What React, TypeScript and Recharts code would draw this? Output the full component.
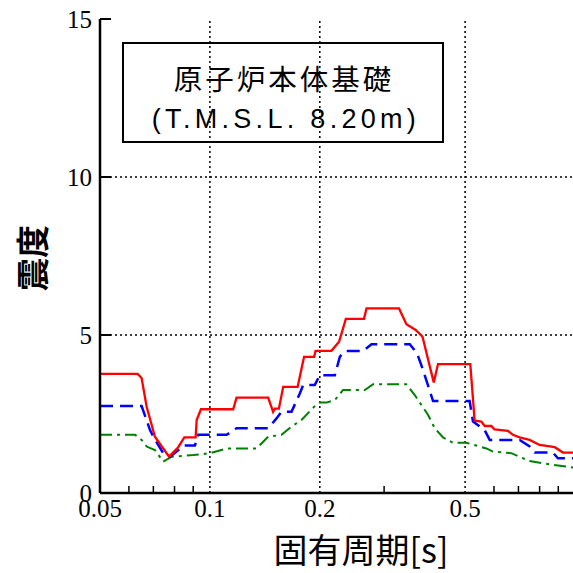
import React from 'react';
import { LineChart, Line, XAxis, YAxis, ReferenceLine } from 'recharts';

// periods [s] and seismic intensity
const redPeriods = [0.05, 0.0634, 0.065, 0.0671, 0.0707, 0.0773, 0.0819, 0.0851, 0.0914, 0.092, 0.0945, 0.1158, 0.1183, 0.1444, 0.149, 0.1506, 0.1545, 0.1588, 0.1739, 0.1811, 0.193, 0.1947, 0.2152, 0.2259, 0.2357, 0.2643, 0.2685, 0.3296, 0.3453, 0.3661, 0.3821, 0.4103, 0.4215, 0.5167, 0.531, 0.554, 0.566, 0.59, 0.602, 0.655, 0.676, 0.705, 0.751, 0.8, 0.88, 0.927, 1.0];
const redValues = [3.77, 3.77, 3.64, 2.73, 1.78, 1.15, 1.45, 1.76, 1.76, 2.31, 2.65, 2.65, 3.02, 3.02, 2.57, 2.67, 2.67, 3.36, 3.36, 4.31, 4.31, 4.5, 4.5, 4.79, 5.51, 5.51, 5.84, 5.84, 5.34, 5.16, 4.95, 3.5, 4.08, 4.08, 2.29, 2.26, 2.12, 2.12, 2.01, 1.97, 1.84, 1.76, 1.68, 1.52, 1.45, 1.28, 1.28];

const bluePeriods = [0.05, 0.065, 0.0671, 0.0685, 0.07, 0.0745, 0.0777, 0.0811, 0.0845, 0.091, 0.0929, 0.1111, 0.1183, 0.1444, 0.1522, 0.1571, 0.1673, 0.1763, 0.1801, 0.1938, 0.2, 0.2199, 0.2269, 0.2342, 0.2627, 0.2771, 0.3527, 0.3693, 0.3835, 0.4085, 0.5145, 0.5255, 0.5656, 0.584, 0.7054, 0.7515, 0.7755, 0.87, 0.898, 1.0];
const blueValues = [2.75, 2.75, 2.3, 2.0, 1.78, 1.26, 1.15, 1.31, 1.5, 1.5, 1.84, 1.84, 2.05, 2.05, 2.36, 2.57, 2.57, 3.15, 3.42, 3.42, 3.73, 3.73, 4.31, 4.49, 4.49, 4.71, 4.71, 4.42, 3.89, 2.91, 2.91, 2.26, 1.99, 1.68, 1.68, 1.47, 1.28, 1.28, 1.1, 1.1];

const greenPeriods = [0.05, 0.0624, 0.065, 0.0671, 0.0707, 0.0745, 0.0786, 0.09, 0.1, 0.1111, 0.1342, 0.1444, 0.1571, 0.1673, 0.1782, 0.193, 0.2, 0.2086, 0.2199, 0.2316, 0.2656, 0.2799, 0.3453, 0.364, 0.396, 0.4128, 0.435, 0.4634, 0.504, 0.572, 0.5964, 0.6694, 0.7515, 0.87, 1.0];
const greenValues = [1.84, 1.84, 1.68, 1.47, 1.36, 0.99, 1.15, 1.2, 1.26, 1.41, 1.41, 1.78, 1.84, 2.1, 2.31, 2.73, 2.86, 2.86, 2.94, 3.26, 3.26, 3.44, 3.44, 3.1, 2.47, 2.05, 1.76, 1.59, 1.59, 1.41, 1.31, 1.26, 1.01, 0.89, 0.8];

const xMajorTicks = [0.05, 0.1, 0.2, 0.5];
const xTickLabels = ['0.05', '0.1', '0.2', '0.5'];
const xMinorTicks = [0.06, 0.07, 0.08, 0.09, 0.3, 0.4, 0.6, 0.7, 0.8, 0.9];
const yTicks = [0, 5, 10, 15];

const redData = redPeriods.map((p, i) => ({ period: p, value: redValues[i] }));
const blueData = bluePeriods.map((p, i) => ({ period: p, value: blueValues[i] }));
const greenData = greenPeriods.map((p, i) => ({ period: p, value: greenValues[i] }));

const allXTicks = [...xMajorTicks, ...xMinorTicks].sort((a, b) => a - b);
const serif = "'Liberation Serif', 'Times New Roman', serif";
const sans = "'Liberation Sans', 'Noto Sans CJK JP', sans-serif";

const XTick = (props: any) => {
  const { x, y, payload, top } = props;
  const idx = xMajorTicks.indexOf(payload.value);
  const major = idx >= 0;
  return (
    <g>
      {!major && (
        <line x1={x} x2={x} y1={y} y2={top ? y + 7 : y - 7} stroke='#000' strokeWidth={1.5} />
      )}
      {!top && major && (
        <text x={x} y={y + 24} textAnchor='middle' fontFamily={serif} fontSize={25} fill='#000'>
          {xTickLabels[idx]}
        </text>
      )}
    </g>
  );
};

const YTick = (props: any) => {
  const { x, y, payload, right } = props;
  return (
    <g>
      <line x1={x} x2={right ? x - 11 : x + 11} y1={y} y2={y} stroke='#000' strokeWidth={2} />
      {!right && (
        <text x={x - 8} y={y + 9} textAnchor='end' fontFamily={serif} fontSize={25} fill='#000'>
          {payload.value}
        </text>
      )}
    </g>
  );
};

const App = () => {
  return (
    <div
      style={{
        position: 'absolute',
        left: 0,
        top: 0,
        width: 573,
        height: 573,
        overflow: 'hidden',
        background: '#fff',
      }}
    >
      <LineChart width={580} height={573} margin={{ top: 19, right: 0, bottom: 0, left: 0 }}>
        <XAxis
          dataKey='period'
          type='number'
          scale='log'
          domain={[0.05, 1]}
          allowDataOverflow
          ticks={allXTicks}
          interval={0}
          height={80}
          tickSize={0}
          tickMargin={0}
          tickLine={false}
          axisLine={{ stroke: '#000', strokeWidth: 2.5 }}
          tick={(p: any) => <XTick {...p} />}
        />
        <XAxis
          xAxisId='top'
          orientation='top'
          dataKey='period'
          type='number'
          scale='log'
          domain={[0.05, 1]}
          allowDataOverflow
          ticks={allXTicks}
          interval={0}
          height={0}
          tickSize={0}
          tickMargin={0}
          tickLine={false}
          axisLine={{ stroke: '#000', strokeWidth: 2.5 }}
          tick={(p: any) => <XTick {...p} top />}
        />
        <YAxis
          type='number'
          domain={[0, 15]}
          ticks={yTicks}
          interval={0}
          width={100}
          tickSize={0}
          tickMargin={0}
          tickLine={false}
          axisLine={{ stroke: '#000', strokeWidth: 2.5 }}
          tick={(p: any) => <YTick {...p} />}
        />
        <YAxis
          yAxisId='right'
          orientation='right'
          type='number'
          domain={[0, 15]}
          ticks={yTicks}
          interval={0}
          width={5}
          tickSize={0}
          tickMargin={0}
          tickLine={false}
          axisLine={{ stroke: '#000', strokeWidth: 2.5 }}
          tick={(p: any) => <YTick {...p} right />}
        />
        {[0.1, 0.2, 0.5].map((v) => (
          <ReferenceLine key={'x' + v} x={v} stroke='#000' strokeWidth={1.5} strokeDasharray='2 3' />
        ))}
        {[5, 10].map((v) => (
          <ReferenceLine key={'y' + v} y={v} stroke='#000' strokeWidth={1.5} strokeDasharray='2 3' />
        ))}
        <Line
          data={greenData}
          dataKey='value'
          type='linear'
          stroke='#008000'
          strokeWidth={2}
          strokeDasharray='12 5 3 5'
          dot={false}
          isAnimationActive={false}
        />
        <Line
          data={blueData}
          dataKey='value'
          type='linear'
          stroke='#0000ff'
          strokeWidth={2.5}
          strokeDasharray='13 7'
          dot={false}
          isAnimationActive={false}
        />
        <Line
          data={redData}
          dataKey='value'
          type='linear'
          stroke='#ff0000'
          strokeWidth={2.3}
          dot={false}
          isAnimationActive={false}
        />
        <rect x={123} y={43} width={320} height={99} fill='#fff' stroke='#000' strokeWidth={2} />
        <text x={284} y={90} textAnchor='middle' fontFamily={sans} fontSize={28.5} letterSpacing={3} fill='#000'>
          原子炉本体基礎
        </text>
        <text x={286} y={128} textAnchor='middle' fontFamily={sans} fontSize={27} letterSpacing={4.3} fill='#000'>
          (T.M.S.L. 8.20m)
        </text>
        <text
          x={31}
          y={258}
          transform='rotate(-90 31 258)'
          textAnchor='middle'
          dominantBaseline='central'
          fontFamily="'Noto Sans CJK JP', sans-serif"
          fontSize={33}
          fontWeight='bold'
          fill='#000'
        >
          震度
        </text>
        <text
          x={361}
          y={563}
          textAnchor='middle'
          fontFamily="'Noto Sans CJK JP', sans-serif"
          fontSize={34}
          fill='#000'
        >
          固有周期[s]
        </text>
      </LineChart>
    </div>
  );
};

export default App;
